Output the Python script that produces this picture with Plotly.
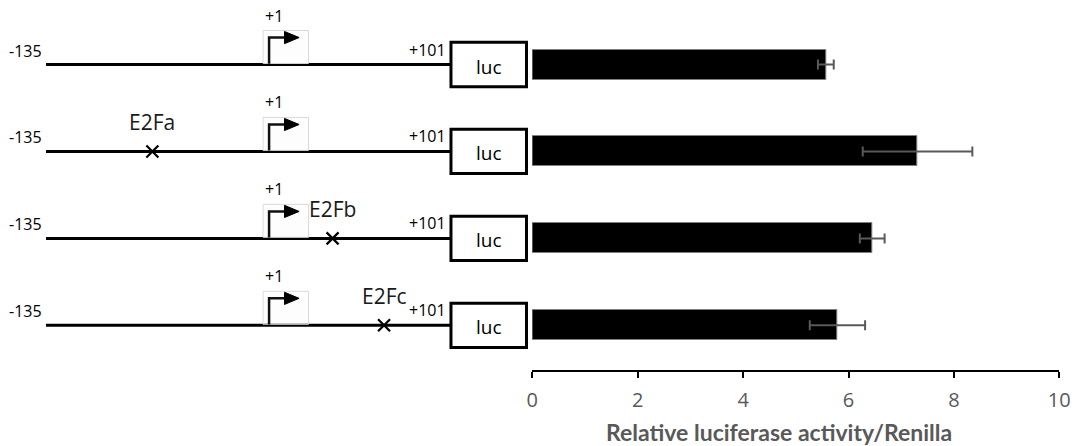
import plotly.graph_objects as go

# ---------------- data ----------------
constructs = ["WT", "E2Fa mut", "E2Fb mut", "E2Fc mut"]
mutated_site = [None, "E2Fa", "E2Fb", "E2Fc"]
site_pos = [None, -73, 32, 62]          # schematic position of mutated site (bp scale of drawing)
activity = [5.57, 7.31, 6.45, 5.79]     # Relative luciferase activity/Renilla
activity_err = [0.15, 1.04, 0.235, 0.525]
construct_start = -135
construct_end = 101
tss_pos = -5                            # drawn position of +1 (schematic)
start_label = "-135"
end_label = "+101"
tss_label = "+1"
reporter = "luc"
x_ticks = [0, 2, 4, 6, 8, 10]
x_title = "Relative luciferase activity/Renilla"

# ---------------- styling ----------------
BOX_LEN = 44          # reporter box length in diagram units
BOX_HALF = 0.255
rows = list(range(len(constructs)))
FONT = "Open Sans, sans-serif"

fig = go.Figure()

# bars
fig.add_trace(go.Bar(
    x=activity, y=rows, orientation="h", width=0.345,
    marker=dict(color="black", line=dict(color="#7f7f7f", width=1)),
    error_x=dict(type="data", array=activity_err, color="#595959", thickness=2, width=5),
    xaxis="x", yaxis="y", showlegend=False, hoverinfo="skip",
))

# promoter lines
lx, ly = [], []
for r in rows:
    lx += [construct_start, construct_end, None]
    ly += [r, r, None]
fig.add_trace(go.Scatter(x=lx, y=ly, mode="lines", line=dict(color="black", width=3),
                         xaxis="x2", yaxis="y", showlegend=False, hoverinfo="skip"))

# mutation marks
mx = [p for p in site_pos if p is not None]
my = [r for r, p in zip(rows, site_pos) if p is not None]
fig.add_trace(go.Scatter(x=mx, y=my, mode="markers",
                         marker=dict(symbol="x-thin", size=12, line=dict(color="black", width=2.2)),
                         xaxis="x2", yaxis="y", showlegend=False, hoverinfo="skip"))

shapes = []
annotations = []
for r in rows:
    # luc box
    shapes.append(dict(type="rect", xref="x2", yref="y",
                       x0=construct_end, x1=construct_end + BOX_LEN,
                       y0=r - BOX_HALF, y1=r + BOX_HALF,
                       line=dict(color="black", width=3), fillcolor="white", layer="above"))
    # tss picture frame
    shapes.append(dict(type="rect", xref="x2", yref="y",
                       x0=tss_pos - 3.5, x1=tss_pos + 23, y0=r - 0.391, y1=r - 0.012,
                       line=dict(color="#dadada", width=1), fillcolor="rgba(0,0,0,0.008)"))
    # bent arrow
    shapes.append(dict(type="path", xref="x2", yref="y",
                       path=f"M {tss_pos},{r - 0.01} L {tss_pos},{r - 0.31} L {tss_pos + 10},{r - 0.31}",
                       line=dict(color="#111111", width=2.5)))
    shapes.append(dict(type="path", xref="x2", yref="y",
                       path=(f"M {tss_pos + 9},{r - 0.38} L {tss_pos + 17.5},{r - 0.31} "
                             f"L {tss_pos + 9},{r - 0.24} Z"),
                       line=dict(color="black", width=1), fillcolor="black"))
    annotations += [
        dict(x=construct_start, y=r, xref="x2", yref="y", text=start_label, showarrow=False,
             xanchor="right", yanchor="middle", xshift=-2, yshift=14,
             font=dict(size=16, color="black")),
        dict(x=construct_end, y=r, xref="x2", yref="y", text=end_label, showarrow=False,
             xanchor="right", yanchor="middle", xshift=-3, yshift=15,
             font=dict(size=16, color="black")),
        dict(x=tss_pos - 3.5, y=r, xref="x2", yref="y", text=tss_label, showarrow=False,
             xanchor="left", yanchor="middle", yshift=49,
             font=dict(size=16, color="black")),
        dict(x=construct_end + BOX_LEN / 2, y=r, xref="x2", yref="y", text=reporter, showarrow=False,
             xanchor="center", yanchor="middle", yshift=-2,
             font=dict(size=19, color="black")),
    ]
    if mutated_site[r] is not None:
        annotations.append(dict(x=site_pos[r], y=r, xref="x2", yref="y", text=mutated_site[r],
                                showarrow=False, xanchor="center", yanchor="middle", yshift=29,
                                font=dict(size=21, color="#1a1a1a")))

# x-axis title (placed as an annotation, slightly left of the axis centre as in the original)
annotations.append(dict(x=778.5 / 1077, y=14 / 446, xref="paper", yref="paper",
                        text=f"<b>{x_title}</b>", showarrow=False,
                        xanchor="center", yanchor="middle",
                        font=dict(family="Lato, sans-serif", size=23, color="#595959")))

fig.update_layout(
    width=1077, height=446,
    margin=dict(l=0, r=0, t=0, b=0),
    paper_bgcolor="white", plot_bgcolor="rgba(0,0,0,0)",
    font=dict(family=FONT),
    shapes=shapes, annotations=annotations,
    bargap=0,
    xaxis=dict(domain=[532.3 / 1077, 1059.3 / 1077], range=[0, 10], anchor="y",
               tickvals=x_ticks, ticktext=[str(t) for t in x_ticks],
               showline=True, linecolor="black", linewidth=1.5,
               ticks="outside", ticklen=6, tickcolor="black", tickwidth=1.5,
               ticklabelstandoff=5,
               tickfont=dict(family=FONT, size=20, color="#595959"),
               showgrid=False, zeroline=False, automargin=False),
    xaxis2=dict(domain=[0, 1], range=[-161.8, 465.8], anchor="y", visible=False,
                showgrid=False, zeroline=False),
    yaxis=dict(domain=[76 / 446, 1], range=[3.514, -0.742], visible=False,
               showgrid=False, zeroline=False),
)

fig.write_html("out.html")
